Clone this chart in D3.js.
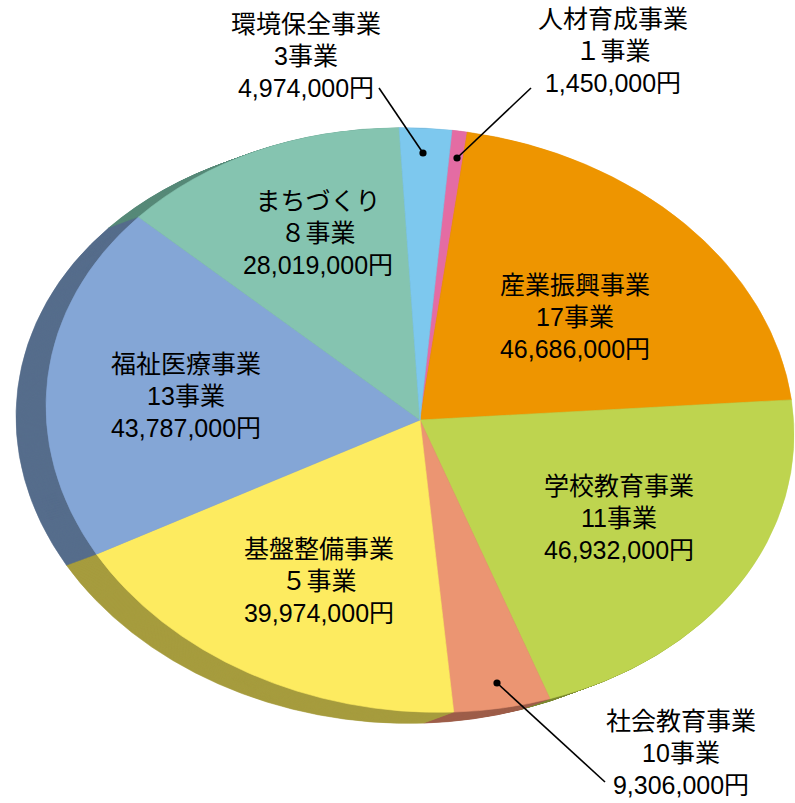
<!DOCTYPE html>
<html>
<head>
<meta charset="utf-8">
<script src="https://cdn.jsdelivr.net/npm/d3@7/dist/d3.min.js"></script>
<style>
  html, body { margin: 0; padding: 0; background: #ffffff; }
  svg { display: block; }
  text { font-family: "Liberation Sans", "Noto Sans CJK JP", sans-serif; font-size: 25px; fill: #000; }
</style>
</head>
<body>
<svg id="chart" width="795" height="803"></svg>
<script>
// ---- data ----
const categories = ["人材育成事業", "産業振興事業", "学校教育事業", "社会教育事業", "基盤整備事業", "福祉医療事業", "まちづくり", "環境保全事業"];
const projectCounts = ["１事業", "17事業", "11事業", "10事業", "５事業", "13事業", "８事業", "3事業"];
const amounts = [1450000, 46686000, 46932000, 9306000, 39974000, 43787000, 28019000, 4974000];
const amountLabels = ["1,450,000円", "46,686,000円", "46,932,000円", "9,306,000円", "39,974,000円", "43,787,000円", "28,019,000円", "4,974,000円"];
const topColors = ["#E46CA3", "#EE9500", "#BED44F", "#EB9572", "#FDEB60", "#84A6D6", "#85C4B0", "#7DC8EE"];
const sideColors = ["#94466A", "#9A6100", "#7C8A33", "#9E5E4A", "#A69C3E", "#566D8C", "#578A78", "#5182A0"];

// ---- layout ----
const cx = 420, cy = 420, rx = 374, ry = 292;
const tilt = 0.038;           // slight perspective skew
const depthX = -30, depthY = 11;
const startDeg = 4.9;

const svg = d3.select("#chart");

const pie = d3.pie().sort(null).value(d => d)
  .startAngle(startDeg * Math.PI / 180)
  .endAngle(startDeg * Math.PI / 180 + 2 * Math.PI);
const arcs = pie(amounts);
const arc = d3.arc().innerRadius(0).outerRadius(rx);
const mat = (ox, oy) => `matrix(1,${tilt},0,${ry / rx},${ox},${oy})`;

// side (extrusion) layers
const steps = 31;
const sideG = svg.append("g");
for (let k = steps; k >= 1; k--) {
  const t = k / steps;
  const g = sideG.append("g")
    .attr("transform", mat(cx + depthX * t, cy + depthY * t));
  g.selectAll("path").data(arcs).join("path")
    .attr("d", arc)
    .attr("fill", (d, i) => sideColors[i])
    .attr("stroke", (d, i) => sideColors[i])
    .attr("stroke-width", 0.6)
    .attr("vector-effect", "non-scaling-stroke");
}

// top face
const topG = svg.append("g").attr("transform", mat(cx, cy));
topG.selectAll("path").data(arcs).join("path")
  .attr("d", arc)
  .attr("fill", (d, i) => topColors[i])
  .attr("stroke", (d, i) => topColors[i])
  .attr("stroke-width", 0.6)
  .attr("vector-effect", "non-scaling-stroke");

// label positions (center x, baseline of first line)
const labelPos = [
  [613, 28], [575, 294], [619, 495], [681, 730],
  [319, 558], [186, 373], [318, 210], [306, 33]
];
const lineGap = 32;

// leader lines: [label end, dot on slice]
const leaders = {
  0: [[531, 88], [457, 158]],
  7: [[379, 88], [423, 153]],
  3: [[605, 782], [497, 683]]
};

Object.entries(leaders).forEach(([i, pts]) => {
  svg.append("line")
    .attr("x1", pts[0][0]).attr("y1", pts[0][1])
    .attr("x2", pts[1][0]).attr("y2", pts[1][1])
    .attr("stroke", "#000").attr("stroke-width", 1.6);
  svg.append("circle")
    .attr("cx", pts[1][0]).attr("cy", pts[1][1]).attr("r", 3.6)
    .attr("fill", "#000");
});

const labels = svg.append("g");
categories.forEach((c, i) => {
  const [x, y] = labelPos[i];
  [c, projectCounts[i], amountLabels[i]].forEach((s, j) => {
    labels.append("text")
      .attr("text-anchor", "middle")
      .attr("x", x).attr("y", y + j * lineGap)
      .text(s);
  });
});
</script>
</body>
</html>
